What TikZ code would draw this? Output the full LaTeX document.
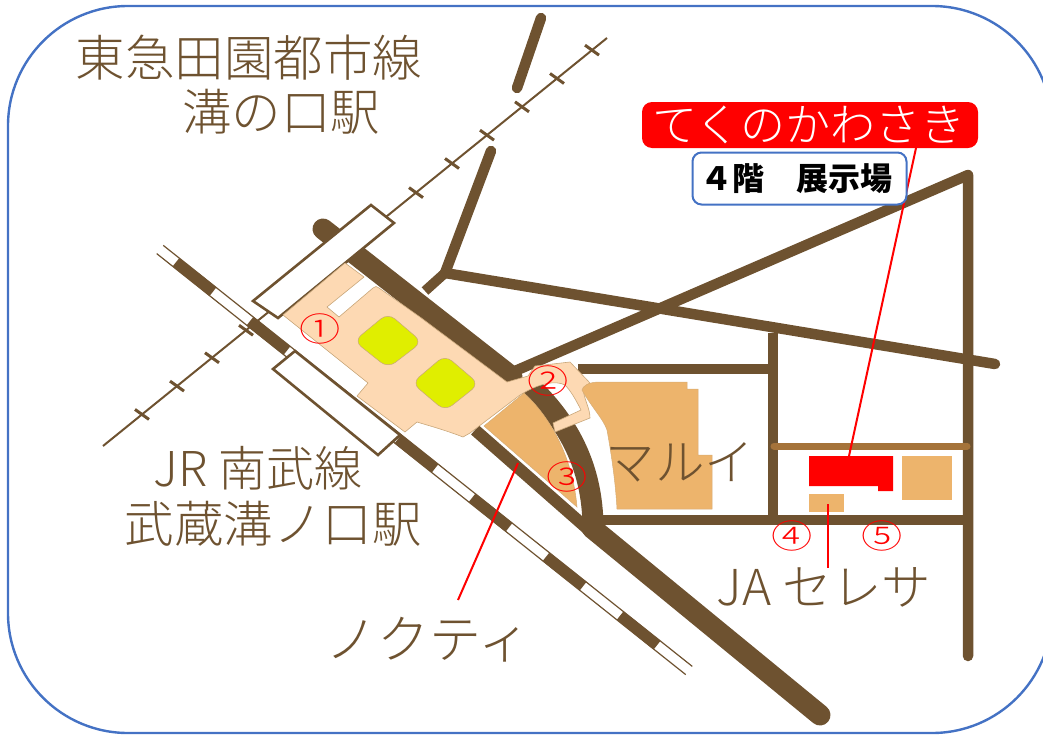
\documentclass[tikz,border=0pt]{standalone}
\usepackage{fontspec}
\newfontfamily\cjk{Noto Sans CJK JP}
\newfontfamily\cjklt{Noto Sans CJK JP Light}
\definecolor{road}{HTML}{6E5230}
\definecolor{lane}{HTML}{A5733A}
\definecolor{peach}{HTML}{FDD9B3}
\definecolor{peachline}{HTML}{C9A77A}
\definecolor{bldg}{HTML}{EDB46C}
\definecolor{plaza}{HTML}{E0EE00}
\definecolor{frameblue}{HTML}{4472C4}
\newcommand{\fs}[1]{\fontsize{#1}{#1}\selectfont}
\tikzset{
  roadline/.style={draw=road,line width=#1,line cap=round},
  roadline/.default=10.5pt,
  station/.style={draw=road,line width=2.6pt,fill=white,line join=miter},
  maplabel/.style={text=road,font=\cjklt\fs{#1},inner sep=0pt,align=center},
  maplabel/.default=49.5,
  num/.style={text=red,font=\cjklt\fs{33},inner sep=0pt},
  leader/.style={draw=red,line width=2pt},
  building/.style={fill=bldg,draw=peachline!60!bldg,line width=.5pt},
  plazabox/.style={fill=plaza,draw=peachline,line width=.5pt,rounded corners=9pt},
}
\begin{document}
\begin{tikzpicture}[x=1pt,y=-1pt]
\useasboundingbox (0,0) rectangle (1043,734);
\clip (0,0) rectangle (1043,734);
\draw[frameblue,line width=2.4pt,rounded corners=120pt] (8,6) rectangle (1052,733);
% Tokyu line
\coordinate (ta) at (103,446); \coordinate (tb) at (607,38);
\draw[draw=road,line width=2pt] (ta) -- (tb);
\foreach \x in {142,177,212,246,416,452,487,522,557,592}{
  \pgfmathsetmacro{\y}{446-0.8095*(\x-103)}
  \draw[draw=road,line width=3pt] (\x-7,\y-5) -- (\x+7,\y+5);
}
% Nambu line
\coordinate (na) at (160,249.5); \coordinate (nb) at (689,670.5);
\draw[draw=road,line width=1.2pt] ([xshift=-3.3pt,yshift=-4.1pt]na) -- ([xshift=-3.3pt,yshift=-4.1pt]nb);
\draw[draw=road,line width=1.2pt] ([xshift=3.3pt,yshift=4.1pt]na) -- ([xshift=3.3pt,yshift=4.1pt]nb);
\draw[draw=road,line width=11pt,dash pattern=on 47.3pt off 47.3pt,dash phase=74.2pt] (na) -- (nb);
% roads
\coordinate (m0) at (323,229); \coordinate (m1) at (512,377);
\coordinate (m2) at (592,528); \coordinate (m3) at (820,715);
\coordinate (c0) at (530,386);
\draw[roadline=21pt] (m0) -- (m1);
\draw[draw=road,line width=21pt] (c0) .. controls (566,420) and (593,465) .. (593,528);
\draw[draw=road,line width=12pt] (475,430) -- (590,531);
\draw[roadline=21pt] (m2) -- (m3);
\coordinate (corner) at (968,175);
\coordinate (rEnd) at (968,656);
\coordinate (dEnd) at (515,371);
\draw[draw=road,line width=10.5pt,line cap=round,line join=round] (dEnd) -- (corner) -- (rEnd);
\coordinate (j) at (445,273);
\draw[roadline] (j) -- (995,364);
\draw[roadline] (491,151) -- (j);
\draw[draw=road,line width=10pt] (j) -- (425,291);
\draw[roadline] (541,18) -- (517,88);
\draw[draw=road,line width=10pt] (578,369) -- (778,369);
\draw[draw=road,line width=10pt] (773,333) -- (773,520);
\draw[draw=road,line width=10pt] (590,520) -- (968,520);
\draw[draw=lane,line width=7pt,line cap=round] (774,446) -- (967,446);
% stations
\draw[station] (371,205) -- (394,223) -- (278,318) -- (253,301) -- cycle;
\draw[station] (273,369) -- (295,351) -- (400,435) -- (378,455) -- cycle;
% concourse
\draw[fill=peach,draw=peachline,line width=.6pt]
 (283,315) -- (345,263) -- (364,277) -- (327,307) -- (339,317) -- (373,288)
 .. controls (375,286) and (377,286) .. (379,288)
 -- (420,317) -- (507,382) -- (528,376) -- (535,366) -- (570,362) -- (590,383)
 -- (583,388) .. controls (584,400) and (590,408) .. (590,418)
 -- (555,432) -- (553,423) -- (581,410)
 .. controls (575,398) and (570,390) .. (565,385)
 .. controls (555,380) and (540,384) .. (527,391)
 -- (520,395) -- (470,433) -- (463,437)
 .. controls (445,430) and (430,426) .. (417,422)
 -- (405,432) -- (357,396) -- (368,383) -- cycle;
\draw[plazabox] (354,341) -- (388,313) -- (422,342) -- (388,368) -- cycle;
\draw[plazabox] (412,383) -- (445,355) -- (479,384) -- (445,411) -- cycle;
% buildings
\draw[building] (582,390) .. controls (583,386) and (588,382) .. (600,382) -- (687,382) -- (687,389) -- (698,389) -- (698,455) -- (712,455) -- (712,509) -- (617,509)
 .. controls (616,490) and (613,463) .. (607,430) .. controls (604,420) and (590,405) .. (582,390) -- cycle;
\draw[building] (484,426) -- (524,393) .. controls (545,412) and (572,450) .. (577,507) -- cycle;
\fill[red] (809,456) -- (893,456) -- (893,491) -- (878,491) -- (878,486) -- (809,486) -- cycle;
\fill[bldg] (902,456) rectangle (952,500);
\fill[bldg] (809,494) rectangle (844,512);
% texts
\node[maplabel] (tokyu) at (249,58) {東急田園都市線};
\node[maplabel] (mizo) at (281,112) {溝の口駅};
\node[maplabel=48] (jr) at (258,468) {JR 南武線};
\node[maplabel] (musa) at (273,524) {武蔵溝ノ口駅};
\node[maplabel=52] (noc) at (428,640) {ノクティ};
\node[maplabel=49.5] (marui) at (680,462) {マルイ};
\node[maplabel=49.5] (ja) at (824,587) {JA セレサ};
% leaders
\coordinate (l1a) at (916,148); \coordinate (l1b) at (849,456);
\coordinate (l2a) at (518,463); \coordinate (l2b) at (458,600);
\coordinate (l3a) at (828,504); \coordinate (l3b) at (828,568);
\draw[leader] (l1a) -- (l1b);
\draw[leader] (l2a) -- (l2b);
\draw[leader] (l3a) -- (l3b);
% labels
\node[fill=red,rounded corners=10pt,minimum width=336pt,minimum height=46pt,inner sep=0pt,text=white,font=\cjklt\fs{45}] (teku) at (810,125) {てくのかわさき\kern2pt};
\node[draw=frameblue,line width=2pt,fill=white,rounded corners=9pt,minimum width=214pt,minimum height=52pt,inner sep=0pt,font=\cjk\bfseries\fs{32}] (floor) at (799.5,178.5) {４階　展示場\kern6pt};
% circled numbers
\node[num] (n1) at (320,329) {\scalebox{1.25}[1]{①}};
\node[num] (n2) at (548,381) {\scalebox{1.25}[1]{②}};
\node[num] (n3) at (567,477) {\scalebox{1.25}[1]{③}};
\node[num] (n4) at (792,536) {\scalebox{1.25}[1]{④}};
\node[num] (n5) at (882,536) {\scalebox{1.25}[1]{⑤}};
\end{tikzpicture}
\end{document}
